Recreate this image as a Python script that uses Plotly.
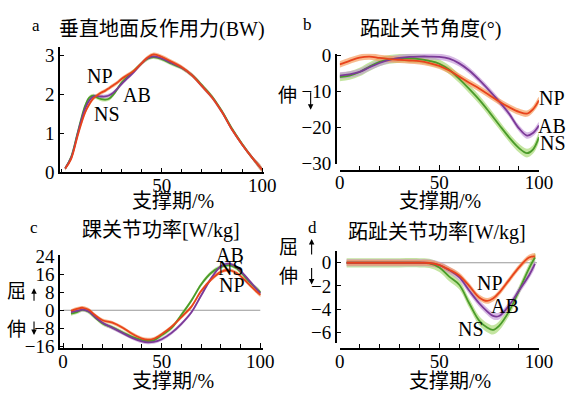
import plotly.graph_objects as go

W, H = 580, 402
FONT = "Liberation Serif, Noto Sans CJK SC, serif"

# ---------------- data ----------------
series = ["NS", "AB", "NP"]

# (a) vertical GRF (BW)
x_a = [2, 5, 8, 10, 12, 14, 16, 18, 20, 22, 24, 26, 28, 30, 33, 36, 40, 43, 46, 50, 55, 60, 65, 70, 75, 80, 85, 90, 95, 100]
a_NP = [0.1, 0.35, 0.9, 1.25, 1.55, 1.75, 1.9, 1.98, 2.05, 2.1, 2.17, 2.24, 2.31, 2.4, 2.5, 2.6, 2.8, 2.95, 3.03, 2.97, 2.84, 2.7, 2.5, 2.22, 1.93, 1.55, 1.1, 0.72, 0.38, 0.07]
a_AB = [0.1, 0.38, 0.95, 1.33, 1.65, 1.85, 1.95, 1.96, 1.95, 1.95, 1.98, 2.05, 2.15, 2.27, 2.42, 2.57, 2.8, 2.93, 2.98, 2.93, 2.81, 2.69, 2.5, 2.22, 1.93, 1.55, 1.1, 0.72, 0.38, 0.07]
a_NS = [0.1, 0.4, 0.98, 1.38, 1.72, 1.92, 1.97, 1.92, 1.88, 1.87, 1.9, 2.0, 2.15, 2.3, 2.46, 2.6, 2.8, 2.92, 2.96, 2.91, 2.79, 2.68, 2.5, 2.24, 1.95, 1.57, 1.12, 0.73, 0.38, 0.07]
a_band = [0.05, 0.05, 0.05]

# (b) MTP joint angle (deg)
x_b = [0, 5, 10, 15, 20, 25, 30, 35, 40, 45, 50, 55, 60, 65, 70, 75, 80, 85, 90, 94, 97, 100]
b_NP = [-2.5, -1.5, -0.6, -0.3, -0.7, -1.0, -1.2, -1.4, -1.6, -2.1, -2.9, -4.2, -5.9, -7.6, -9.2, -11.0, -12.8, -14.4, -15.7, -16.2, -15.0, -12.5]
b_AB = [-5.6, -5.3, -4.6, -3.3, -2.1, -1.2, -0.7, -0.4, -0.3, -0.3, -0.4, -0.9, -2.2, -4.2, -6.8, -9.7, -12.8, -16.2, -20.3, -22.3, -21.6, -19.5]
b_NS = [-6.0, -5.6, -4.6, -3.1, -1.8, -1.1, -0.8, -0.8, -1.0, -1.5, -2.3, -4.0, -6.5, -9.3, -12.3, -15.7, -19.3, -22.8, -25.8, -27.2, -26.2, -22.8]
b_band = [1.2, 0.9, 0.9]

# (c) ankle power (W/kg)
x_c = [4, 7, 10, 13, 16, 20, 25, 30, 35, 40, 43, 46, 50, 55, 60, 65, 70, 75, 80, 84, 88, 92, 96, 100]
c_NP = [-0.3, 0.6, 1.1, 0.2, -2.0, -4.4, -5.5, -7.6, -10.4, -12.5, -13.0, -12.6, -10.6, -7.3, -3.0, 1.5, 8.5, 13.5, 17.0, 17.8, 16.5, 13.5, 10.0, 6.8]
c_AB = [-0.8, -0.3, 0.3, -0.5, -2.8, -5.5, -7.8, -10.0, -12.2, -13.8, -14.2, -14.0, -12.8, -10.0, -6.0, -1.0, 6.5, 14.0, 19.5, 20.6, 19.0, 15.5, 11.5, 7.5]
c_NS = [-1.5, -0.8, 0.2, -0.7, -3.0, -5.8, -7.6, -9.7, -11.8, -13.2, -13.6, -13.3, -11.0, -7.8, -2.0, 4.2, 11.4, 16.5, 19.2, 20.0, 18.6, 15.0, 11.2, 8.0]
c_band = [0.9, 0.8, 0.8]

# (d) MTP joint power (W/kg)
x_d = [3.5, 10, 20, 30, 40, 45, 50, 55, 60, 65, 70, 74, 77, 80, 85, 90, 95, 98]
d_NP = [0, 0, 0, 0, 0, -0.02, -0.2, -0.6, -1.1, -2.0, -3.0, -3.3, -3.1, -2.6, -1.5, -0.4, 0.45, 0.55]
d_AB = [0, 0, 0, 0, 0, -0.02, -0.2, -0.65, -1.25, -2.4, -3.5, -4.2, -4.6, -4.6, -3.7, -2.4, -1.1, -0.1]
d_NS = [0, 0, 0, 0, 0, -0.05, -0.4, -1.2, -1.9, -3.5, -5.0, -5.6, -5.8, -5.45, -4.2, -2.4, -0.5, 0.45]
d_band = [0.4, 0.3, 0.25]

zero_c = ([0, 100], [0, 0])
zero_d = ([3.5, 99], [0, 0])

line_col = {"NS": "#4a9b2a", "AB": "#7b3a98", "NP": "#e8431c"}
band_col = {"NS": "rgba(165,215,110,0.65)", "AB": "rgba(195,150,215,0.65)", "NP": "rgba(245,150,85,0.65)"}

# ---------------- figure ----------------
fig = go.Figure()

def px(x):
    return x / W

def py(y):
    return 1 - y / H

panels = [
    ("x", "y", x_a, {"NS": a_NS, "AB": a_AB, "NP": a_NP}, a_band),
    ("x2", "y2", x_b, {"NS": b_NS, "AB": b_AB, "NP": b_NP}, b_band),
    ("x3", "y3", x_c, {"NS": c_NS, "AB": c_AB, "NP": c_NP}, c_band),
    ("x4", "y4", x_d, {"NS": d_NS, "AB": d_AB, "NP": d_NP}, d_band),
]

# zero reference lines
fig.add_trace(go.Scatter(x=zero_c[0], y=zero_c[1], xaxis="x3", yaxis="y3", mode="lines",
                         line=dict(color="#999999", width=1), showlegend=False, hoverinfo="skip"))
fig.add_trace(go.Scatter(x=zero_d[0], y=zero_d[1], xaxis="x4", yaxis="y4", mode="lines",
                         line=dict(color="#999999", width=1), showlegend=False, hoverinfo="skip"))

for xa, ya, xs, vals, bands in panels:
    for s, hw in zip(series, bands):
        v = vals[s]
        up = [a + hw for a in v]
        lo = [a - hw for a in v]
        fig.add_trace(go.Scatter(x=xs + xs[::-1], y=up + lo[::-1], xaxis=xa, yaxis=ya,
                                 mode="lines", fill="toself", fillcolor=band_col[s],
                                 line=dict(width=0, shape="spline"), showlegend=False, hoverinfo="skip"))
    for s in series:
        fig.add_trace(go.Scatter(x=xs, y=vals[s], xaxis=xa, yaxis=ya, mode="lines",
                                 line=dict(color=line_col[s], width=1.8, shape="spline"),
                                 showlegend=False, name=s))

tickfont = dict(family=FONT, size=19, color="black")
minor = dict(dtick=10, tick0=0, ticks="inside", ticklen=4, tickcolor="black", tickwidth=1.2)

def xax(dom, rng, vals, free=None):
    d = dict(domain=[px(dom[0]), px(dom[1])], range=rng, tickmode="array", tickvals=vals,
             ticktext=[str(v) for v in vals], ticks="inside", ticklen=5, tickwidth=1.2, tickcolor="black",
             showline=True, linecolor="black", linewidth=1.5, showgrid=False, zeroline=False,
             tickfont=tickfont, minor=minor, ticklabelstandoff=-5)
    if free is not None:
        d.update(anchor="free", position=py(free))
    return d

def yax(dom, rng, vals, free=None):
    d = dict(domain=[py(dom[1]), py(dom[0])], range=rng, tickmode="array", tickvals=vals,
             ticks="inside", ticklen=4, tickwidth=1.2, tickcolor="black",
             showline=True, linecolor="black", linewidth=1.5, showgrid=False, zeroline=False,
             tickfont=tickfont)
    if free is not None:
        d.update(anchor="free", position=px(free))
    return d

fig.update_layout(
    width=W, height=H, margin=dict(l=0, r=0, t=0, b=0),
    paper_bgcolor="white", plot_bgcolor="white", showlegend=False,
    xaxis=dict(xax((57, 268), [-0.5, 101], [50, 100]), anchor="y"),
    yaxis=dict(yax((40, 172), [0, 3.22], [0, 1, 2, 3]), anchor="x"),
    xaxis2=dict(xax((346, 552), [0, 100], [0, 50, 100], free=170)),
    yaxis2=dict(yax((47, 163), [-30.2, 0.5], [0, -10, -20, -30], free=342)),
    xaxis3=dict(xax((57, 267), [-1.5, 101.5], [0, 50, 100]), anchor="y3"),
    yaxis3=dict(yax((259, 357), [-16.8, 24.4], [24, 16, 8, 0, -8, -16]), anchor="x3"),
    xaxis4=dict(xax((346, 552), [0, 100], [0, 50, 100], free=358)),
    yaxis4=dict(yax((255, 352), [-6.98, 0.99], [0, -2, -4, -6], free=342)),
)

def txt(x, y, s, size=19):
    fig.add_annotation(x=px(x), y=py(y), xref="paper", yref="paper", text=s, showarrow=False,
                       font=dict(family=FONT, size=size, color="black"), xanchor="center", yanchor="middle")

def arrow(x, y_tail, y_tip):
    fig.add_annotation(x=px(x), y=py(y_tip), xref="paper", yref="paper", text="",
                       showarrow=True, ax=0, ay=y_tail - y_tip, axref="pixel", ayref="pixel",
                       arrowhead=2, arrowsize=1, arrowwidth=1.1, arrowcolor="black", standoff=0)

# panel letters & titles
txt(32, 17, "a", 17)
txt(162, 22, "垂直地面反作用力(BW)", 20)
txt(313, 16, "b", 17)
txt(440, 22, "跖趾关节角度(°)", 20)
txt(30, 230, "c", 17)
txt(161, 233, "踝关节功率[W/kg]", 20)
txt(318, 230, "d", 17)
txt(447, 235, "跖趾关节功率[W/kg]", 20)

# x-axis titles
txt(174, 202, "支撑期/%", 20)
txt(450, 202, "支撑期/%", 20)
txt(174, 392, "支撑期/%", 20)
txt(460, 392, "支撑期/%", 20)

# direction labels
txt(292, 91, "伸")
arrow(316, 87, 106)
txt(12, 297, "屈")
arrow(30, 308, 294)
txt(12, 337, "伸")
arrow(30, 328, 343)
txt(293, 251, "屈")
arrow(317, 259, 242)
txt(293, 281, "伸")
arrow(317, 272, 290)

# series labels
txt(98, 71, "NP", 20)
txt(136, 90, "AB", 20)
txt(105, 111, "NS", 20)
txt(566, 94, "NP", 20)
txt(566, 123, "AB", 20)
txt(567, 141, "NS", 20)
txt(233, 259, "AB", 20)
txt(234, 273, "NS", 20)
txt(235, 290, "NP", 20)
txt(501, 288, "NP", 20)
txt(517, 313, "AB", 20)
txt(482, 337, "NS", 20)

fig.write_html("out.html", config={"displayModeBar": False},
               post_script="document.body.style.margin='0';")
